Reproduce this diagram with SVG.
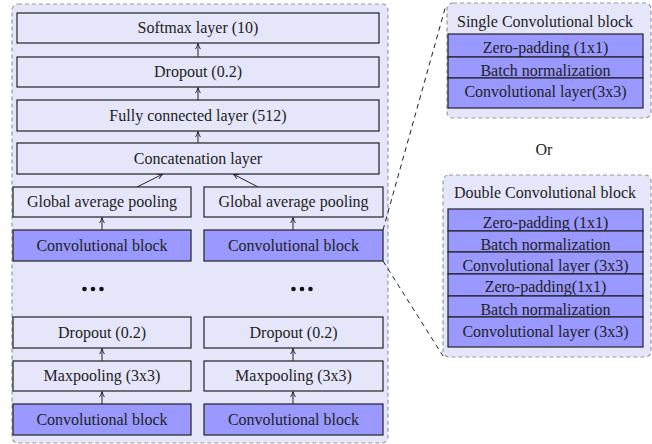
<svg xmlns="http://www.w3.org/2000/svg" width="652" height="444" viewBox="0 0 652 444" font-family="'Liberation Serif', 'DejaVu Serif', serif">
<style>
text{font-family:'Liberation Serif','DejaVu Serif',serif;font-size:16px;fill:#222;text-anchor:middle}
.cont{fill:#e6e6fa;stroke:#999;stroke-width:1.2;stroke-dasharray:4 3}
.lb{fill:#e6e6fa;stroke:#222;stroke-width:1.2}
.db{fill:#9999ff;stroke:#222;stroke-width:1.2}
.ar{stroke:#222;stroke-width:1;fill:none;marker-end:url(#ah)}
.dl{stroke:#222;stroke-width:1;fill:none;stroke-dasharray:5 4}
</style>
<defs>
<marker id="ah" viewBox="0 0 10 10" refX="9" refY="5" markerWidth="7" markerHeight="7" markerUnits="userSpaceOnUse" orient="auto">
<path d="M1,1.5 Q5,4 9,5 Q5,6 1,8.5" fill="none" stroke="#222" stroke-width="1.3"/>
</marker>
</defs>
<rect class="cont" x="12" y="4" width="376" height="439" rx="6"/>
<rect class="cont" x="447" y="3" width="204" height="115" rx="6"/>
<rect class="cont" x="443" y="175" width="208" height="182" rx="6"/>
<g id="connectors">
<path class="ar" d="M198,57V43.5"/>
<path class="ar" d="M198,100V87.5"/>
<path class="ar" d="M198,143V131.5"/>
<path class="ar" d="M137,187L163,174"/>
<path class="ar" d="M258,187L233,174"/>
<path class="ar" d="M102,230V217.5"/>
<path class="ar" d="M293,230V217.5"/>
<path class="ar" d="M102,361V348.5"/>
<path class="ar" d="M293,361V348.5"/>
<path class="ar" d="M102,404V391.5"/>
<path class="ar" d="M293,404V391.5"/>
<path class="dl" d="M383,230L446,5"/>
<path class="dl" d="M383,261L443,356"/>
</g>
<g id="softmax"><rect class="lb" x="17" y="13" width="362" height="30"/><text x="198" y="33">Softmax layer (10)</text></g>
<g id="dropout_top"><rect class="lb" x="17" y="57" width="362" height="30"/><text x="198" y="77">Dropout (0.2)</text></g>
<g id="fc"><rect class="lb" x="17" y="100" width="362" height="31"/><text x="198" y="121">Fully connected layer (512)</text></g>
<g id="concat"><rect class="lb" x="17" y="143" width="362" height="31"/><text x="198" y="164">Concatenation layer</text></g>
<g id="gap_left"><rect class="lb" x="13" y="187" width="178" height="30"/><text x="102" y="207">Global average pooling</text></g>
<g id="gap_right"><rect class="lb" x="204" y="187" width="179" height="30"/><text x="293.5" y="207">Global average pooling</text></g>
<g id="conv_left_top"><rect class="db" x="13" y="230" width="178" height="31"/><text x="102" y="251">Convolutional block</text></g>
<g id="conv_right_top"><rect class="db" x="204" y="230" width="179" height="31"/><text x="293.5" y="251">Convolutional block</text></g>
<g id="dots_left"><circle cx="84.5" cy="289" r="2.3" fill="#111"/><circle cx="93" cy="289" r="2.3" fill="#111"/><circle cx="101.5" cy="289" r="2.3" fill="#111"/></g>
<g id="dots_right"><circle cx="293.5" cy="289" r="2.3" fill="#111"/><circle cx="302" cy="289" r="2.3" fill="#111"/><circle cx="310.5" cy="289" r="2.3" fill="#111"/></g>
<g id="dropout_left"><rect class="lb" x="13" y="317" width="178" height="31"/><text x="102" y="338">Dropout (0.2)</text></g>
<g id="dropout_right"><rect class="lb" x="204" y="317" width="179" height="31"/><text x="293.5" y="338">Dropout (0.2)</text></g>
<g id="maxpool_left"><rect class="lb" x="13" y="361" width="178" height="30"/><text x="102" y="381">Maxpooling (3x3)</text></g>
<g id="maxpool_right"><rect class="lb" x="204" y="361" width="179" height="30"/><text x="293.5" y="381">Maxpooling (3x3)</text></g>
<g id="conv_left_bottom"><rect class="db" x="13" y="404" width="178" height="31"/><text x="102" y="425">Convolutional block</text></g>
<g id="conv_right_bottom"><rect class="db" x="204" y="404" width="179" height="31"/><text x="293.5" y="425">Convolutional block</text></g>
<g id="single_block">
<text x="545" y="27">Single Convolutional block</text>
<rect class="db" x="448" y="34" width="195" height="23"/><text x="545.5" y="53">Zero-padding (1x1)</text>
<rect class="db" x="448" y="57" width="195" height="21"/><text x="545.5" y="76">Batch normalization</text>
<rect class="db" x="448" y="78" width="195" height="30"/><text x="545.5" y="97">Convolutional layer(3x3)</text>
</g>
<g id="or"><text x="544" y="155">Or</text></g>
<g id="double_block">
<text x="545" y="198">Double Convolutional block</text>
<rect class="db" x="448" y="209" width="195" height="22"/><text x="545.5" y="228">Zero-padding (1x1)</text>
<rect class="db" x="448" y="231" width="195" height="21"/><text x="545.5" y="250">Batch normalization</text>
<rect class="db" x="448" y="252" width="195" height="22"/><text x="545.5" y="271">Convolutional layer (3x3)</text>
<rect class="db" x="448" y="274" width="195" height="22"/><text x="545.5" y="292">Zero-padding(1x1)</text>
<rect class="db" x="448" y="296" width="195" height="21"/><text x="545.5" y="315">Batch normalization</text>
<rect class="db" x="448" y="317" width="195" height="30"/><text x="545.5" y="337">Convolutional layer (3x3)</text>
</g>
</svg>
